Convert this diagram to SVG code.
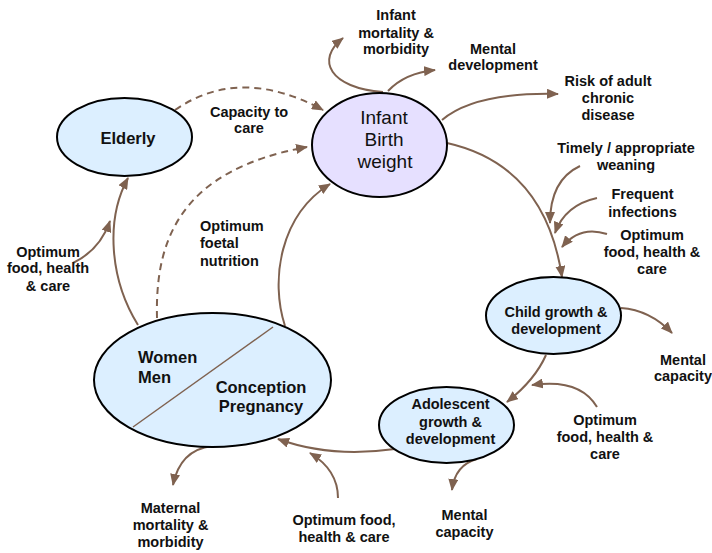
<svg xmlns="http://www.w3.org/2000/svg" width="712" height="553" viewBox="0 0 712 553">
<style>
.bg{fill:#ffffff}
.node{stroke:#000;stroke-width:2}
.blue{fill:#dcefff}
.lav{fill:#e6e0ff}
.conn{fill:none;stroke:#7f6250;stroke-width:2;marker-end:url(#ah)}
.dash{stroke-dasharray:7 5}
.t{font-family:"Liberation Sans",Arial,sans-serif;font-weight:bold;font-size:14.5px;fill:#111;text-anchor:middle}
.tl{text-anchor:start}
.big{font-size:16.5px}
.reg{font-weight:normal;font-size:19px}
</style>
<defs>
<marker id="ah" viewBox="0 0 12 10" refX="11" refY="5" markerWidth="12" markerHeight="10" markerUnits="userSpaceOnUse" orient="auto">
<path d="M0,0 L12,5 L0,10 z" fill="#7f6250"/>
</marker>
</defs>
<rect class="bg" x="0" y="0" width="712" height="553"/>
<g id="connectors">
<path class="conn dash" d="M175,110 Q240,65 323,110"/>
<path class="conn dash" d="M157,318 C155,240 180,170 307,147"/>
<path class="conn" d="M138,325 C110,280 105,220 128,178"/>
<path class="conn" d="M73,263 Q100,250 110,221"/>
<path class="conn" d="M285,326 C270,280 280,215 330,184"/>
<path class="conn" d="M383,92 C330,88 315,60 343,38"/>
<path class="conn" d="M388,91 Q405,73 435,70"/>
<path class="conn" d="M442,120 Q475,92 558,94"/>
<path class="conn" d="M447,143 Q545,165 562,277"/>
<path class="conn" d="M580,166 Q550,180 550,223"/>
<path class="conn" d="M597,198 Q565,205 555,233"/>
<path class="conn" d="M607,234 Q580,225 562,247"/>
<path class="conn" d="M621,308 Q650,310 672,333"/>
<path class="conn" d="M546,355 Q535,380 507,402"/>
<path class="conn" d="M597,407 Q580,378 532,385"/>
<path class="conn" d="M477,459 Q455,465 452,490"/>
<path class="conn" d="M395,449 Q330,458 278,439"/>
<path class="conn" d="M338,498 Q338,470 310,453"/>
<path class="conn" d="M212,446 Q180,450 173,485"/>
</g>
<g id="elderly">
<ellipse class="node blue" cx="124.5" cy="137" rx="67.5" ry="39"/>
<text class="t big" x="128" y="144">Elderly</text>
</g>
<g id="infant">
<ellipse class="node lav" cx="379.5" cy="145" rx="67.5" ry="52"/>
<text class="t reg" x="384" y="123.5">Infant</text>
<text class="t reg" x="384" y="146">Birth</text>
<text class="t reg" x="385" y="168">weight</text>
</g>
<g id="women">
<ellipse class="node blue" cx="212.5" cy="380" rx="118.5" ry="67"/>
<line x1="273" y1="327" x2="133" y2="427" stroke="#7f6250" stroke-width="1.5"/>
<text class="t big tl" x="138" y="363">Women</text>
<text class="t big tl" x="138" y="382.5">Men</text>
<text class="t big" x="261" y="392.5">Conception</text>
<text class="t big" x="261" y="411.5">Pregnancy</text>
</g>
<g id="child">
<ellipse class="node blue" cx="553.5" cy="315.5" rx="67.5" ry="38.5"/>
<text class="t" x="556" y="316.5">Child growth &amp;</text>
<text class="t" x="556" y="334">development</text>
</g>
<g id="adolescent">
<ellipse class="node blue" cx="446.5" cy="425" rx="67.5" ry="38"/>
<text class="t" x="450.5" y="409.3">Adolescent</text>
<text class="t" x="450.5" y="426.7">growth &amp;</text>
<text class="t" x="450.5" y="444">development</text>
</g>
<g id="labels">
<text class="t" x="396" y="20">Infant</text>
<text class="t" x="396" y="37.5">mortality &amp;</text>
<text class="t" x="396" y="54.3">morbidity</text>
<text class="t" x="493" y="54">Mental</text>
<text class="t" x="493" y="69.5">development</text>
<text class="t" x="608" y="86">Risk of adult</text>
<text class="t" x="608" y="102.5">chronic</text>
<text class="t" x="608" y="120">disease</text>
<text class="t" x="626" y="152.7">Timely / appropriate</text>
<text class="t" x="626" y="170">weaning</text>
<text class="t" x="642.5" y="199">Frequent</text>
<text class="t" x="642.5" y="216.5">infections</text>
<text class="t" x="652" y="240">Optimum</text>
<text class="t" x="652" y="256.7">food, health &amp;</text>
<text class="t" x="652" y="274">care</text>
<text class="t" x="249" y="117.3">Capacity to</text>
<text class="t" x="249" y="133.3">care</text>
<text class="t tl" x="200" y="231">Optimum</text>
<text class="t tl" x="200" y="248.3">foetal</text>
<text class="t tl" x="200" y="265.7">nutrition</text>
<text class="t" x="48" y="256.7">Optimum</text>
<text class="t" x="48" y="273.3">food, health</text>
<text class="t" x="48" y="290.7">&amp; care</text>
<text class="t" x="683" y="365">Mental</text>
<text class="t" x="683" y="381">capacity</text>
<text class="t" x="605" y="425">Optimum</text>
<text class="t" x="605" y="441.7">food, health &amp;</text>
<text class="t" x="605" y="459">care</text>
<text class="t" x="464.5" y="520">Mental</text>
<text class="t" x="464.5" y="536.7">capacity</text>
<text class="t" x="344" y="525">Optimum food,</text>
<text class="t" x="344" y="541.7">health &amp; care</text>
<text class="t" x="170.5" y="513.3">Maternal</text>
<text class="t" x="170.5" y="530">mortality &amp;</text>
<text class="t" x="170.5" y="547.3">morbidity</text>
</g>
</svg>
